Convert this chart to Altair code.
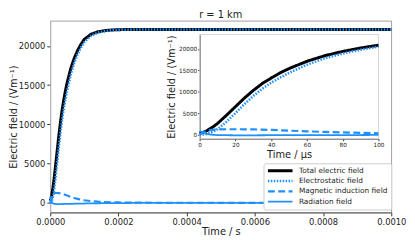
import altair as alt
import pandas as pd

# ---- data ----
t_us = [0, 2, 4, 6, 8, 10, 15, 20, 25, 30, 35, 40, 45, 50, 60, 70, 80, 90, 100,
        120, 140, 160, 180, 200, 250, 300, 400, 500, 600, 700, 800, 900, 1000]
total = [250, 500, 900, 1400, 1950, 2600, 4500, 6500, 8500, 10300, 11900, 13200,
         14400, 15400, 17100, 18400, 19400, 20200, 20850, 21500, 21800, 21950,
         22030, 22070, 22100, 22100, 22100, 22100, 22100, 22100, 22100, 22100, 22100]
electro = [0, 30, 150, 400, 800, 1250, 3000, 5000, 7100, 9000, 10700, 12100,
           13300, 14400, 16300, 17800, 18900, 19800, 20500, 21300, 21700, 21880,
           21990, 22040, 22090, 22100, 22100, 22100, 22100, 22100, 22100, 22100, 22100]
induction = [0, 500, 850, 1050, 1150, 1200, 1250, 1250, 1230, 1200, 1150, 1080,
             1000, 920, 760, 620, 500, 400, 320, 210, 140, 95, 65, 45, 20, 10, 3,
             0, 0, 0, 0, 0, 0]
radiation = [800, 450, 150, 0, -70, -110, -150, -160, -160, -160, -155, -150,
             -145, -140, -130, -120, -110, -100, -90, -75, -60, -50, -40, -32,
             -20, -12, -5, -2, 0, 0, 0, 0, 0]
series_names = ["Total electric field", "Electrostatic field",
                "Magnetic induction field", "Radiation field"]
main_x_ticks = [0, 0.0002, 0.0004, 0.0006, 0.0008, 0.0010]
y_ticks = [0, 5000, 10000, 15000, 20000]
inset_x_ticks = [0, 20, 40, 60, 80, 100]

rows = []
for name, vals in zip(series_names, [total, electro, induction, radiation]):
    for t, v in zip(t_us, vals):
        rows.append({"series": name, "t_s": t * 1e-6, "t_us": t, "E": v})
df = pd.DataFrame(rows)
inset_df = df[df["t_us"] <= 100]

W, H = 347, 195
BLUE = "#1e90ff"
FONT = "DejaVu Sans"

color_scale = alt.Scale(domain=series_names, range=["black", BLUE, BLUE, BLUE])
dash_scale = alt.Scale(domain=series_names,
                       range=[[1, 0], [1.5, 1.5], [7, 3.5], [1, 0]])
width_scale = alt.Scale(domain=series_names, range=[3, 1.8, 1.5, 1.2])

legend = alt.Legend(title=None, orient="none", legendX=217, legendY=145,
                    symbolType="stroke", symbolSize=625, clipHeight=9,
                    rowPadding=1.5, padding=3, labelFontSize=7.5, labelFont=FONT,
                    labelColor="#222", labelOffset=5, fillColor="white",
                    strokeColor="#cccccc", cornerRadius=2)

style_enc = dict(
    color=alt.Color("series:N", scale=color_scale, legend=legend),
    strokeDash=alt.StrokeDash("series:N", scale=dash_scale, legend=legend),
    strokeWidth=alt.StrokeWidth("series:N", scale=width_scale, legend=legend),
)

main = alt.Chart(df).mark_line().encode(
    x=alt.X("t_s:Q",
            scale=alt.Scale(domain=[0, 0.001], nice=False, zero=False),
            axis=alt.Axis(title="Time / s", values=main_x_ticks, format=".4f",
                          labelFontSize=8.5, titleFontSize=10, tickSize=3.5,
                          labelPadding=1.5, titlePadding=1, labelFlush=False,
                          labelOverlap=False, domainColor="#555",
                          tickColor="#333", grid=False)),
    y=alt.Y("E:Q",
            scale=alt.Scale(domain=[-1230, 23200], nice=False, zero=False),
            axis=alt.Axis(title="Electric field / (Vm⁻¹)", values=y_ticks,
                          format="d", labelFontSize=8.5, titleFontSize=10,
                          tickSize=3.5, labelPadding=2, titlePadding=0,
                          labelOverlap=False, domainColor="#bbbbbb",
                          tickColor="#333", grid=False)),
    **style_enc,
)

inset_box = alt.Chart(alt.Data(values=[{}])).mark_rect(
    fillOpacity=0, stroke="#cccccc", strokeWidth=0.8
).encode(
    x=alt.datum(0), x2=alt.datum(100),
    y=alt.datum(-970), y2=alt.datum(23330),
)

inset_lines = alt.Chart(inset_df).mark_line().encode(
    x=alt.X("t_us:Q",
            scale=alt.Scale(domain=[0, 100], range=[152, 334], nice=False,
                            zero=False),
            axis=alt.Axis(orient="bottom", offset=-75, title="Time / μs",
                          values=inset_x_ticks, format="d", labelFontSize=5.8,
                          titleFontSize=10, tickSize=2, labelPadding=1,
                          titlePadding=2, labelFlush=False, labelOverlap=False,
                          domainColor="#555", tickColor="#333", grid=False)),
    y=alt.Y("E:Q",
            scale=alt.Scale(domain=[-970, 23330], range=[120, 14], nice=False,
                            zero=False),
            axis=alt.Axis(orient="left", offset=-152,
                          title="Electric field / (Vm⁻¹)", values=y_ticks,
                          format="d", labelFontSize=5.8, titleFontSize=10,
                          tickSize=2, labelPadding=1, titlePadding=2,
                          labelOverlap=False, domainColor="#555",
                          tickColor="#333", grid=False)),
    **style_enc,
)

inset = alt.layer(inset_box, inset_lines)

chart = alt.layer(main, inset).resolve_scale(
    x="independent", y="independent"
).properties(
    width=W, height=H,
    title=alt.TitleParams("r = 1 km", fontSize=10, font=FONT,
                          fontWeight="normal", offset=1, anchor="middle",
                          color="#222"),
    padding={"left": 43, "top": 11, "right": 16, "bottom": 26},
    autosize=alt.AutoSizeParams(type="none"),
).configure(font=FONT).configure_axis(
    labelFont=FONT, titleFont=FONT, titleFontWeight="normal",
    labelColor="#222", titleColor="#222"
).configure_view(stroke="#888888", strokeWidth=0.8)

chart.save("out.html", embed_options={"renderer": "svg", "actions": False})
